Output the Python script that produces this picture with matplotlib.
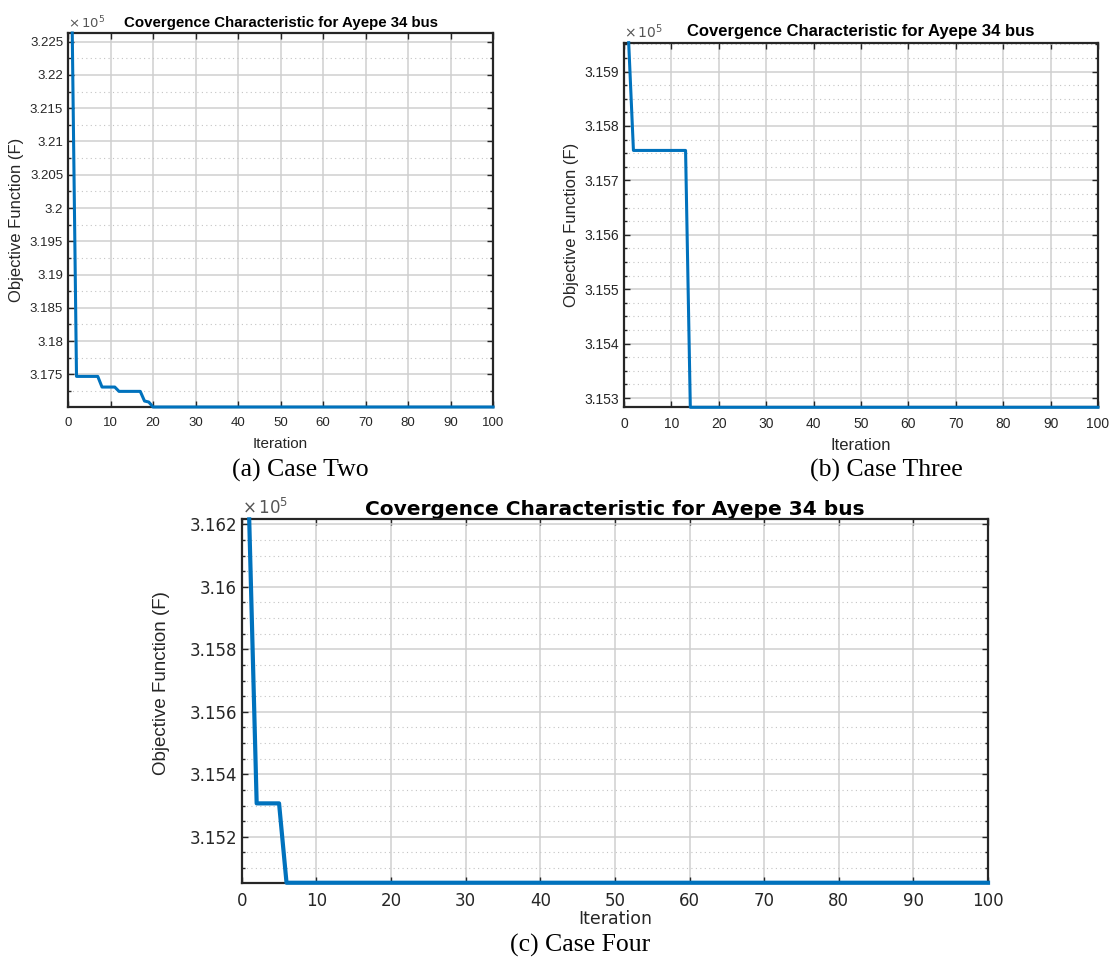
import numpy as np
import matplotlib
matplotlib.use("Agg")
import matplotlib.pyplot as plt
from matplotlib.ticker import MultipleLocator, FuncFormatter

# Objective value per iteration (breakpoints: first iteration of each level, level value)
iterations = np.arange(1, 101)

case_two_start = [1, 2, 8, 12, 18, 19, 20]
case_two_level = [322630, 317470, 317310, 317245, 317100, 317085, 317010]

case_three_start = [1, 2, 14]
case_three_level = [315953, 315755, 315283]

case_four_start = [1, 2, 6]
case_four_level = [316216, 315307, 315053]

x_ticks = [0, 10, 20, 30, 40, 50, 60, 70, 80, 90, 100]
title_text = "Covergence Characteristic for Ayepe 34 bus"
captions = ["(a) Case Two", "(b) Case Three", "(c) Case Four"]

LINE_BLUE = "#0072BD"
INK = "#262626"


def expand(starts, levels):
    vals = np.empty(len(iterations))
    for s, v in zip(starts, levels):
        vals[iterations >= s] = v
    return vals


def fmt(v, pos):
    return "%g" % round(v / 1e5, 6)


def style_axes(ax, y, major, minor, lw, sans, tick_fs, xlabel_fs, ylabel_fs,
               title_fs, ylabel_family, title_family, title_pad, xpad, xlabelpad):
    ax.plot(iterations, y, color=LINE_BLUE, lw=lw, solid_joinstyle="round",
            clip_on=False, zorder=5)
    ax.set_xlim(0, 100)
    ax.set_ylim(y.min(), y.max())
    ax.set_xticks(x_ticks)
    ax.yaxis.set_major_locator(MultipleLocator(major * 1e5))
    ax.yaxis.set_minor_locator(MultipleLocator(minor * 1e5))
    ax.yaxis.set_major_formatter(FuncFormatter(fmt))
    ax.grid(True, which="major", color="#cfcfcf", lw=1.1)
    ax.grid(True, which="minor", axis="y", color="#c4c4c4", lw=0.8, ls=(0, (1, 3)))
    ax.set_axisbelow(True)
    ax.tick_params(which="both", direction="in", top=True, right=True,
                   colors=INK, labelcolor=INK, width=1.0)
    ax.tick_params(which="major", length=4, labelsize=tick_fs)
    ax.tick_params(which="minor", length=2.5)
    ax.tick_params(axis="x", which="major", pad=xpad)
    for lab in ax.get_xticklabels() + ax.get_yticklabels():
        lab.set_family(sans)
    for sp in ax.spines.values():
        sp.set_color(INK)
        sp.set_linewidth(1.6)
        sp.set_zorder(4)
    ax.set_xlabel("Iteration", family=sans, fontsize=xlabel_fs, color=INK,
                  labelpad=xlabelpad)
    ax.set_ylabel("Objective Function (F)", family=ylabel_family, fontsize=ylabel_fs,
                  color=INK, labelpad=4)
    ax.set_title(title_text, family=title_family, fontsize=title_fs,
                 fontweight="bold", color="black", pad=title_pad)
    ax.text(0.0, 1.005, r"$\times\,10^5$", transform=ax.transAxes, ha="left",
            va="bottom", fontsize=tick_fs, color="#555555", family=sans)


fig = plt.figure(figsize=(11.13, 9.57), dpi=100)

ax_a = fig.add_axes([0.0611, 0.5747, 0.3819, 0.3908])
style_axes(ax_a, expand(case_two_start, case_two_level), 0.005, 0.0025, 2.2,
           ["Liberation Sans"], 9.5, 11, 12, 10.8,
           ["Liberation Sans"], ["Liberation Sans"], 4, 7, 6)

ax_b = fig.add_axes([0.5606, 0.5744, 0.4259, 0.3810])
style_axes(ax_b, expand(case_three_start, case_three_level), 0.001, 0.00025, 2.2,
           ["Liberation Sans"], 10, 12, 12, 12,
           ["Liberation Sans"], ["Liberation Sans"], 5, 7, 5)

ax_c = fig.add_axes([0.2172, 0.0776, 0.6705, 0.3797])
style_axes(ax_c, expand(case_four_start, case_four_level), 0.002, 0.0005, 3.0,
           ["DejaVu Sans"], 12, 12.5, 13.5, 14.5,
           ["Liberation Sans"], ["DejaVu Sans"], 2, 6.5, 0)
ax_c.yaxis.set_label_coords(-0.096, 0.55)

fig.text(300 / 1113, 1 - 470 / 957, captions[0], family="Liberation Serif",
         fontsize=18.5, ha="center", va="center")
fig.text(886 / 1113, 1 - 470 / 957, captions[1], family="Liberation Serif",
         fontsize=18.5, ha="center", va="center")
fig.text(580 / 1113, 1 - 945 / 957, captions[2], family="Liberation Serif",
         fontsize=18.5, ha="center", va="center")

fig.savefig("out.png", dpi=100, facecolor="white")
